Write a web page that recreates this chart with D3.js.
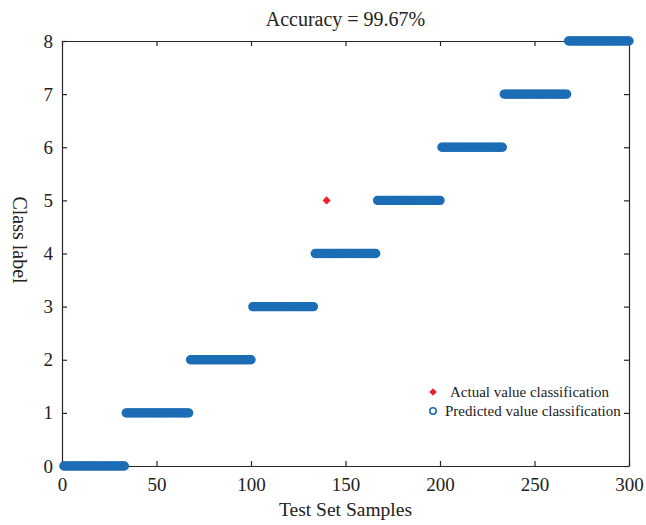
<!DOCTYPE html>
<html>
<head>
<meta charset="utf-8">
<script src="https://cdn.jsdelivr.net/npm/d3@7"></script>
<style>
  body { margin: 0; background: #fff; }
  text { font-family: "Liberation Serif", "Times New Roman", serif; fill: #222; }
</style>
</head>
<body>
<script>
var width = 646,
    height = 525;

// class bands (sample index ranges per class)
var classes    = [0, 1, 2, 3, 4, 5, 6, 7, 8];
var classStart = [1, 34, 68, 101, 134, 167, 201, 234, 268];
var classEnd   = [33, 67, 100, 133, 166, 200, 233, 267, 300];

// the one misclassified sample
var missSample = 140,
    missActual = 5,
    missPredicted = 4;

var xTicks = [0, 50, 100, 150, 200, 250, 300];
var yTicks = [0, 1, 2, 3, 4, 5, 6, 7, 8];

var actual = [], predicted = [];
classes.forEach(function(c, k) {
  for (var s = classStart[k]; s <= classEnd[k]; s++) {
    actual.push({ x: s, y: s == missSample ? missActual : c });
    predicted.push({ x: s, y: s == missSample ? missPredicted : c });
  }
});

var margin = { top: 41, right: 17, bottom: 59, left: 62 };

var x = d3.scaleLinear().domain([0, 300]).range([margin.left, width - margin.right]);
var y = d3.scaleLinear().domain([0, 8]).range([height - margin.bottom, margin.top]);

var svg = d3.select("body").append("svg")
    .attr("width", width)
    .attr("height", height);

// axes, ticks pointing inward, box all round
svg.append("g")
    .attr("transform", "translate(0," + y(0) + ")")
    .call(d3.axisBottom(x).tickValues(xTicks).tickSizeInner(-5).tickSizeOuter(0).tickPadding(12));
svg.append("g")
    .attr("transform", "translate(0," + y(8) + ")")
    .call(d3.axisTop(x).tickValues(xTicks).tickSizeInner(-5).tickSizeOuter(0).tickFormat(""));
svg.append("g")
    .attr("transform", "translate(" + x(0) + ",0)")
    .call(d3.axisLeft(y).tickValues(yTicks).tickSizeInner(-5).tickSizeOuter(0).tickPadding(9));
svg.append("g")
    .attr("transform", "translate(" + x(300) + ",0)")
    .call(d3.axisRight(y).tickValues(yTicks).tickSizeInner(-5).tickSizeOuter(0).tickFormat(""));

svg.selectAll(".domain, .tick line").attr("stroke", "#262626").attr("stroke-width", 1.2);
svg.selectAll(".tick text")
    .style("font-family", '"Liberation Serif", serif')
    .style("font-size", "19px")
    .attr("fill", "#222");

// actual: red diamonds (drawn first)
var diamond = d3.symbol().type(d3.symbolDiamond2).size(42);
svg.append("g").selectAll("path")
    .data(actual)
  .enter().append("path")
    .attr("transform", function(d) { return "translate(" + x(d.x) + "," + y(d.y) + ")"; })
    .attr("d", diamond)
    .attr("fill", "#ec2027");

// predicted: open blue circles
svg.append("g").selectAll("circle")
    .data(predicted)
  .enter().append("circle")
    .attr("cx", function(d) { return x(d.x); })
    .attr("cy", function(d) { return y(d.y); })
    .attr("r", 3.4)
    .attr("fill", "none")
    .attr("stroke", "#1c6db5")
    .attr("stroke-width", 2.6);

// title and axis labels
svg.append("text")
    .attr("x", (x(0) + x(300)) / 2)
    .attr("y", 26)
    .attr("text-anchor", "middle")
    .style("font-size", "20px")
    .text("Accuracy = 99.67%");

svg.append("text")
    .attr("x", (x(0) + x(300)) / 2)
    .attr("y", 516)
    .attr("text-anchor", "middle")
    .style("font-size", "19.5px")
    .text("Test Set Samples");

svg.append("text")
    .attr("transform", "translate(13,240) rotate(90)")
    .attr("text-anchor", "middle")
    .style("font-size", "20px")
    .text("Class label");

// legend
var legend = svg.append("g").attr("transform", "translate(433,392)");
legend.append("path")
    .attr("d", d3.symbol().type(d3.symbolDiamond2).size(36))
    .attr("fill", "#ec2027");
legend.append("text")
    .attr("x", 17).attr("y", 5)
    .style("font-size", "15px")
    .text("Actual value classification");
legend.append("circle")
    .attr("cy", 19).attr("r", 3.2)
    .attr("fill", "none")
    .attr("stroke", "#1c6db5")
    .attr("stroke-width", 1.6);
legend.append("text")
    .attr("x", 12).attr("y", 24)
    .style("font-size", "15px")
    .text("Predicted value classification");
</script>
</body>
</html>
